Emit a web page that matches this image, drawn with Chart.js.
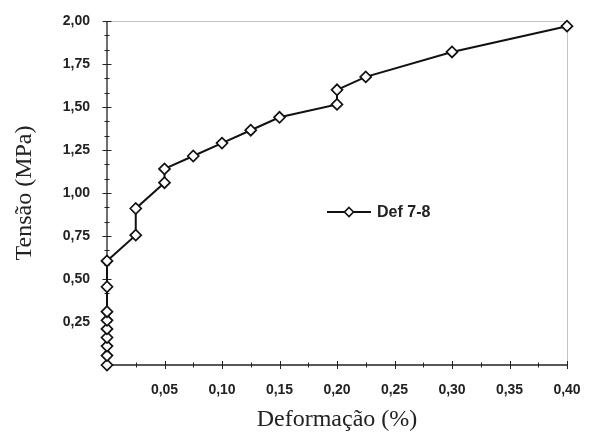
<!DOCTYPE html>
<html>
<head>
<meta charset="utf-8">
<title>Tensão x Deformação</title>
<script src="https://cdn.jsdelivr.net/npm/chart.js@4.4.1/dist/chart.umd.min.js"></script>
<style>
  html, body { margin: 0; padding: 0; background: #fff; }
  #wrap { width: 592px; height: 435px; }
</style>
</head>
<body>
<div id="wrap"><canvas id="chart"></canvas></div>
<script>
/* ==========================================================
DATA
========================================================== */

const seriesLabel = "Def 7-8";

const deformacao = [
  0, 0, 0, 0, 0, 0, 0, 0, 0,
  0.025, 0.025, 0.05, 0.05, 0.075, 0.1, 0.125, 0.15,
  0.2, 0.2, 0.225, 0.3, 0.4,
];

const tensao = [
  0, 0.055, 0.11, 0.16, 0.21, 0.26, 0.31, 0.455, 0.605,
  0.755, 0.91, 1.06, 1.14, 1.215, 1.29, 1.365, 1.44,
  1.515, 1.6, 1.675, 1.82, 1.97,
];

const xTicks = [0.05, 0.1, 0.15, 0.2, 0.25, 0.3, 0.35, 0.4];
const yTicks = [0.25, 0.5, 0.75, 1.0, 1.25, 1.5, 1.75, 2.0];

/*=========================================================
HELPERS
=========================================================*/

function comma(value) {
  return Number(value).toFixed(2).replace(".", ",");
}

const sansFont = "'Liberation Sans', Arial, sans-serif";
const serifFont = "'Liberation Serif', 'Times New Roman', serif";

/*=========================================================
AXIS FRAME (axis lines, major + minor ticks, light box)
=========================================================*/

const axisFrame = {
  id: "axisFrame",

  beforeDatasetsDraw(chart) {
    const { ctx, chartArea: a, scales } = chart;
    const x = scales.x;
    const y = scales.y;

    ctx.save();

    // light top / right border
    ctx.strokeStyle = "#c4c4c4";
    ctx.lineWidth = 1;
    ctx.beginPath();
    ctx.moveTo(a.left, a.top + 0.5);
    ctx.lineTo(a.right + 0.5, a.top + 0.5);
    ctx.lineTo(a.right + 0.5, a.bottom);
    ctx.stroke();

    // axes
    ctx.strokeStyle = "#222";
    ctx.lineWidth = 1.3;
    ctx.beginPath();
    ctx.moveTo(a.left, a.top);
    ctx.lineTo(a.left, a.bottom);
    ctx.lineTo(a.right, a.bottom);
    ctx.stroke();

    // x ticks
    ctx.lineWidth = 1;
    ctx.beginPath();
    for (let i = 1; i <= 16; i++) {
      const px = Math.round(x.getPixelForValue(i * 0.025)) + 0.5;
      const len = i % 2 === 0 ? 4 : 2.5;
      ctx.moveTo(px, a.bottom - len);
      ctx.lineTo(px, a.bottom + len);
    }

    // y ticks
    for (let i = 1; i <= 24; i++) {
      const py = Math.round(y.getPixelForValue((i * 0.25) / 3)) + 0.5;
      const len = i % 3 === 0 ? 4.5 : 2.5;
      ctx.moveTo(a.left - len, py);
      ctx.lineTo(a.left + len, py);
    }
    ctx.stroke();

    ctx.restore();
  },
};

/*=========================================================
LEGEND (inside the plot)
=========================================================*/

const innerLegend = {
  id: "innerLegend",

  afterDraw(chart) {
    const { ctx } = chart;
    const ds = chart.data.datasets[0];
    const ly = 212;

    ctx.save();

    ctx.strokeStyle = ds.borderColor;
    ctx.lineWidth = 2;
    ctx.beginPath();
    ctx.moveTo(327, ly);
    ctx.lineTo(371, ly);
    ctx.stroke();

    ctx.fillStyle = "#fff";
    ctx.lineWidth = 1.6;
    ctx.beginPath();
    ctx.moveTo(349, ly - 4.5);
    ctx.lineTo(353.5, ly);
    ctx.lineTo(349, ly + 4.5);
    ctx.lineTo(344.5, ly);
    ctx.closePath();
    ctx.fill();
    ctx.stroke();

    ctx.fillStyle = "#222";
    ctx.font = "bold 16px " + sansFont;
    ctx.textBaseline = "middle";
    ctx.textAlign = "left";
    ctx.fillText(ds.label, 377, ly + 1);

    ctx.restore();
  },
};

/*=========================================================
CHART
=========================================================*/

const canvas = document.getElementById("chart");

new Chart(canvas, {
  type: "scatter",

  data: {
    datasets: [
      {
        label: seriesLabel,

        data: deformacao.map((v, i) => ({ x: v, y: tensao[i] })),

        showLine: true,

        borderColor: "#111",

        borderWidth: 2,

        pointStyle: "rectRot",

        pointRadius: 5.5,

        pointBackgroundColor: "#fff",

        pointBorderColor: "#111",

        pointBorderWidth: 1.7,

        clip: false,
      },
    ],
  },

  options: {
    responsive: true,

    maintainAspectRatio: false,

    animation: false,

    layout: {
      padding: { top: 21, right: 25, bottom: 0, left: 0 },
    },

    plugins: {
      legend: { display: false },
      tooltip: { enabled: false },
    },

    scales: {
      x: {
        type: "linear",

        min: 0,

        max: 0.4,

        afterBuildTicks: (s) => {
          s.ticks = xTicks.map((v) => ({ value: v }));
        },

        afterFit: (s) => {
          s.height = 70;
          s.paddingLeft = 0;
          s.paddingRight = 0;
        },

        grid: { display: false, drawTicks: false },

        border: { display: false },

        ticks: {
          padding: 17,
          color: "#222",
          maxRotation: 0,
          font: { family: sansFont, size: 14, weight: "bold" },
          callback: (v) => comma(v),
        },

        title: {
          display: true,
          text: "Deformação (%)",
          color: "#222",
          padding: { top: 0, bottom: 1 },
          font: { family: serifFont, size: 24 },
        },
      },

      y: {
        type: "linear",

        min: 0,

        max: 2,

        afterBuildTicks: (s) => {
          s.ticks = yTicks.map((v) => ({ value: v }));
        },

        afterFit: (s) => {
          s.width = 107;
          s.paddingTop = 0;
          s.paddingBottom = 0;
        },

        grid: { display: false, drawTicks: false },

        border: { display: false },

        ticks: {
          padding: 17,
          color: "#222",
          font: { family: sansFont, size: 14, weight: "bold" },
          callback: (v) => comma(v),
        },

        title: {
          display: true,
          text: "Tensão (MPa)",
          color: "#222",
          padding: { top: 10, bottom: 0 },
          font: { family: serifFont, size: 24 },
        },
      },
    },
  },

  plugins: [axisFrame, innerLegend],
});
</script>
</body>
</html>
